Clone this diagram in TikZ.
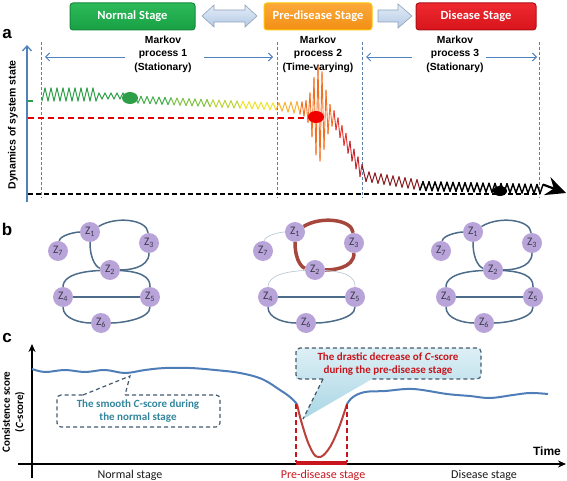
\documentclass[tikz,border=0pt]{standalone}
\usepackage{fontspec}
\setmainfont{Carlito}
\newfontfamily\arialf{Liberation Sans}
\usetikzlibrary{arrows.meta}
\definecolor{zfill}{HTML}{B9A4DA}
\definecolor{ztext}{HTML}{3A3A4A}
\definecolor{zblue}{HTML}{4D6C8A}
\definecolor{zhot}{HTML}{A6473D}
\definecolor{zweak}{HTML}{BCCAD6}
\definecolor{vblue}{HTML}{5A7FA8}
\definecolor{ablue}{HTML}{4F81BD}
\definecolor{cblue}{HTML}{4E7DB8}
\definecolor{cred}{HTML}{B9413A}
\definecolor{dred}{HTML}{C8141C}
\definecolor{teal}{HTML}{31859C}
\definecolor{slate}{HTML}{455A70}
\definecolor{ng1}{HTML}{2DBA5A}
\definecolor{ng2}{HTML}{17A044}
\definecolor{po1}{HTML}{FBA93A}
\definecolor{po2}{HTML}{F38E14}
\definecolor{rd1}{HTML}{EE2A30}
\definecolor{rd2}{HTML}{D8141C}
\definecolor{af1}{HTML}{E3ECF7}
\definecolor{af2}{HTML}{B4CAE6}
\definecolor{cf1}{HTML}{DDEFF5}
\definecolor{cf2}{HTML}{A9D6E5}
\definecolor{s1}{HTML}{2E9E48}
\definecolor{s2}{HTML}{44AE48}
\definecolor{s3}{HTML}{80C143}
\definecolor{s4}{HTML}{BBD538}
\definecolor{s5}{HTML}{EFE22E}
\definecolor{s6}{HTML}{F9B233}
\definecolor{s7}{HTML}{F37021}
\definecolor{s8}{HTML}{E5312A}
\definecolor{s9}{HTML}{C51F2A}
\definecolor{s10}{HTML}{8B1A1E}
\newcommand\zz[5]{\foreach \x in {#1,#2,...,#3}{\pgfmathsetmacro\yy{#5}\draw[sigline,#4] (\lastx,\lasty) -- (\x,\yy);\xdef\lastx{\x}\xdef\lasty{\yy}}}
\newcommand\zsg{cos(60*mod(\x,6))}
\newcommand\zsh{cos(90*mod(\x,4))}
\newcommand\znet[4]{%
 \begin{scope}[shift={(#2,0)}]
  \node[znode] (#1z1) at (90,232) {Z\textsubscript{1}};
  \node[znode] (#1z7) at (58,251) {Z\textsubscript{7}};
  \node[znode] (#1z3) at (149,243) {Z\textsubscript{3}};
  \node[znode] (#1z2) at (110,270) {Z\textsubscript{2}};
  \node[znode] (#1z4) at (63,297) {Z\textsubscript{4}};
  \node[znode] (#1z5) at (150,297) {Z\textsubscript{5}};
  \node[znode] (#1z6) at (101,323) {Z\textsubscript{6}};
 \end{scope}
 \draw[#4] (#1z7) .. controls +(2,-16) and +(-14,0) .. (#1z1);
 \draw[#3] (#1z1) .. controls +(25,-16) and +(-2,-24) .. (#1z3);
 \draw[#3] (#1z1) .. controls +(0,30) and +(-12,-2) .. (#1z2);
 \draw[#3] (#1z3) .. controls +(0,26) and +(16,0) .. (#1z2);
 \draw[#4] (#1z2) .. controls +(-42,2) and +(0,-16) .. (#1z4);
 \draw[#4] (#1z2) .. controls +(38,2) and +(0,-16) .. (#1z5);
 \draw[zedge] (#1z4) -- (#1z5);
 \draw[zedge] (#1z4) .. controls +(0,22) and +(-20,0) .. (#1z6);
 \draw[zedge] (#1z5) .. controls +(0,22) and +(20,0) .. (#1z6);
}
\begin{document}
\begin{tikzpicture}[x=1pt,y=-1pt,
  znode/.style={circle,fill=zfill,minimum size=20pt,inner sep=0pt,font=\fontsize{11.5}{11.5}\selectfont,text=ztext},
  zedge/.style={draw=zblue,line width=1.5pt},
  hotedge/.style={draw=zhot,line width=3.5pt},
  weakedge/.style={draw=zweak,line width=0.7pt},
  sigline/.style={line width=1pt,line cap=round,line join=round},
  vdash/.style={draw=vblue,line width=1pt,dash pattern=on 3pt off 2pt},
  mkarrow/.style={draw=ablue,line width=0.9pt,-{Straight Barb[length=4pt,width=8pt]}},
  mktext/.style={font=\arialf\bfseries\fontsize{10.3}{13.5}\selectfont,align=center,text=black},
  stagebox/.style={rounded corners=3pt,minimum height=27pt,line width=1pt,text=white,font=\bfseries\fontsize{12.5}{12.5}\selectfont},
  arrowshape/.style={top color=af1,bottom color=af2,draw=af2!80!black,line width=0.6pt},
  panel/.style={font=\arialf\bfseries\fontsize{17}{17}\selectfont},
  ctext/.style={font=\bfseries\fontsize{11}{13.5}\selectfont,align=center},
  stagelab/.style={font=\fontsize{12}{12}\selectfont,text=black!90},
  cdash/.style={draw=slate,line width=1.2pt,dash pattern=on 4pt off 3pt}]
\useasboundingbox (0,0) rectangle (567,481);
% ---------- top stage boxes ----------
\node[stagebox,top color=ng1,bottom color=ng2,draw=ng2!85!black,minimum width=125pt] (nst) at (132.5,16.5) {Normal Stage};
\node[stagebox,top color=po1,bottom color=po2,draw=yellow!60!orange,minimum width=108pt] (pst) at (318,16.5) {Pre-disease Stage};
\node[stagebox,top color=rd1,bottom color=rd2,draw=rd2!80!black,minimum width=120pt] (dst) at (476,16.5) {Disease Stage};
\path[arrowshape] (202,16) -- (214,5) -- (214,10) -- (245,10) -- (245,5) -- (257,16) -- (245,27) -- (245,22) -- (214,22) -- (214,27) -- cycle;
\path[arrowshape] (378,10) -- (398,10) -- (398,4) -- (412,16) -- (398,28) -- (398,22) -- (378,22) -- cycle;
% ---------- panel a ----------
\node[panel] (la) at (7,34) {a};
\node[font=\arialf\bfseries\fontsize{10.5}{10.5}\selectfont,rotate=90] (ylaba) at (13,125) {Dynamics of system state};
\draw[vdash] (41,42) -- (41,198);
\draw[vdash] (277,42) -- (277,198);
\draw[vdash] (362,42) -- (362,198);
\draw[vdash] (539,42) -- (539,198);
\node[mktext] (mk1) at (163,54) {Markov\\process 1\\(Stationary)};
\node[mktext] (mk2) at (318,54) {Markov\\process 2\\(Time-varying)};
\node[mktext] (mk3) at (455,54) {Markov\\process 3\\(Stationary)};
\coordinate (a1s) at (125,57); \coordinate (a1e) at (45,57);
\coordinate (a2s) at (204,57); \coordinate (a2e) at (273,57);
\coordinate (a3s) at (412,57); \coordinate (a3e) at (366,57);
\coordinate (a4s) at (486,57); \coordinate (a4e) at (537,57);
\draw[mkarrow] (a1s) -- (a1e);
\draw[mkarrow] (a2s) -- (a2e);
\draw[mkarrow] (a3s) -- (a3e);
\draw[mkarrow] (a4s) -- (a4e);
\draw[draw=ablue,line width=1.3pt,-{Straight Barb[length=5pt,width=9pt]}] (27,202) -- (27,45);
\draw[s1,line width=1.6pt] (27,101) -- (33,101);
\draw[draw=red!90!black,line width=1.6pt,dash pattern=on 6pt off 4pt] (28,118) -- (310,118);
\draw[black,line width=1.6pt,dash pattern=on 5pt off 3pt] (28,194) -- (540,194);
% signal
\xdef\lastx{42}\xdef\lasty{101}
\zz{45}{48}{96}{s1}{94.5+6.5*\zsg}
\zz{99}{102}{126}{s1}{96+3*\zsg}
\zz{129}{132}{171}{s2}{99+(\x-126)*0.05+3.5*\zsg}
\zz{174}{177}{210}{s3}{99+(\x-126)*0.05+3.5*\zsg}
\zz{213}{216}{240}{s4}{99+(\x-126)*0.05+3.5*\zsg}
\zz{243}{246}{276}{s5}{99+(\x-126)*0.05+3.5*\zsg}
\zz{279}{282}{300}{s6}{99+(\x-126)*0.05+(3.5+(\x-276)*0.12)*\zsg}
\zz{302}{304}{334}{s7,line width=0.9pt}{107.7+(\x-300)*0.3+(6+42*exp(-((\x-319)/8)^2))*\zsh}
\zz{336}{338}{348}{s8,line width=0.9pt}{118+(\x-334)*1.95+8*\zsh}
\zz{350}{352}{362}{s9,line width=0.9pt}{118+(\x-334)*1.95+8*\zsh}
\zz{366}{369}{420}{s10}{176+(\x-363)*0.16+5*\zsg}
\zz{423}{426}{543}{black,line width=1.4pt}{186+(\x-420)*0.025+4.5*\zsg}
\draw[black,line width=2.2pt,-{Stealth[length=20pt,width=19pt,inset=7pt]}] (\lastx,\lasty) -- (566,193);
\fill[s1] (130,98) ellipse [x radius=8,y radius=6];
\fill[red!95!black] (316,117) ellipse [x radius=8,y radius=6];
\fill[black] (500,191) ellipse [x radius=7,y radius=5];
% ---------- panel b ----------
\node[panel] (lb) at (7,229) {b};
\znet{p}{0}{zedge}{zedge}
\znet{q}{205}{hotedge}{weakedge}
\znet{r}{383}{zedge}{zedge}
% ---------- panel c ----------
\node[panel] (lc) at (7,338) {c};
\node[font=\bfseries\fontsize{11}{11}\selectfont,rotate=90] (ylc1) at (6,412) {Consistence score};
\node[font=\bfseries\fontsize{11}{11}\selectfont,rotate=90] (ylc2) at (20,412) {(\textit{C}-score)};
\draw[line width=1.6pt,-{Stealth[length=8pt,width=7pt]}] (32,478) -- (32,344);
\draw[line width=1.6pt,-{Stealth[length=8pt,width=7pt]}] (18,464) -- (566,464);
\node[font=\arialf\bfseries\fontsize{12}{12}\selectfont] (tlab) at (547,451) {Time};
% callout 2 fill
\path[top color=cf1,bottom color=cf2] [rounded corners=4pt] (296,379) -- (296,348) -- (481,348) -- (481,379) [sharp corners] -- (372,379) -- (303,419) -- (323,379) -- cycle;
% curve
\draw[cblue,line width=2pt] plot[smooth,tension=0.6] coordinates {(32,369) (45,372) (65,370) (85,372) (105,370) (125,373) (145,370) (165,368) (190,368) (215,370) (240,373) (262,379) (280,390) (290,397) (297,404)};
\draw[cred,line width=2pt] plot[smooth,tension=0.7] coordinates {(297,404) (302,424) (310,447) (318,457) (328,450) (338,430) (347,404)};
\draw[cblue,line width=2pt] plot[smooth,tension=0.6] coordinates {(347,404) (353,397) (365,392) (385,391) (413,389) (447,394) (470,396) (490,398) (513,395) (530,393) (548,394)};
\draw[dred,line width=1.8pt,dash pattern=on 5pt off 3pt] (296,404) -- (296,462);
\draw[dred,line width=1.8pt,dash pattern=on 5pt off 3pt] (347,404) -- (347,462);
\draw[dred,line width=3.2pt] (296,463) -- (347,463);
% callout 2 outline and text
\draw[cdash,rounded corners=4pt] (323,379) -- (296,379) -- (296,348) -- (481,348) -- (481,379) -- (372,379);
\draw[cdash] (323,379) -- (303,419);
\node[ctext,text=dred] (ct2) at (388,364) {The drastic decrease of \textit{C}-score\\during the pre-disease stage};
% callout 1
\draw[cdash,rounded corners=4pt] (125,395) -- (220,395) -- (220,427) -- (57,427) -- (57,395) -- (83,395);
\draw[cdash] (83,395) -- (130,376) -- (125,395);
\node[ctext,text=teal] (ct1) at (138,411) {The smooth \textit{C}-score during\\the normal stage};
% stage labels
\node[stagelab] (sl1) at (130,475) {Normal stage};
\node[stagelab,text=dred] (sl2) at (323,475) {Pre-disease stage};
\node[stagelab] (sl3) at (484,475) {Disease stage};
\end{tikzpicture}
\end{document}
